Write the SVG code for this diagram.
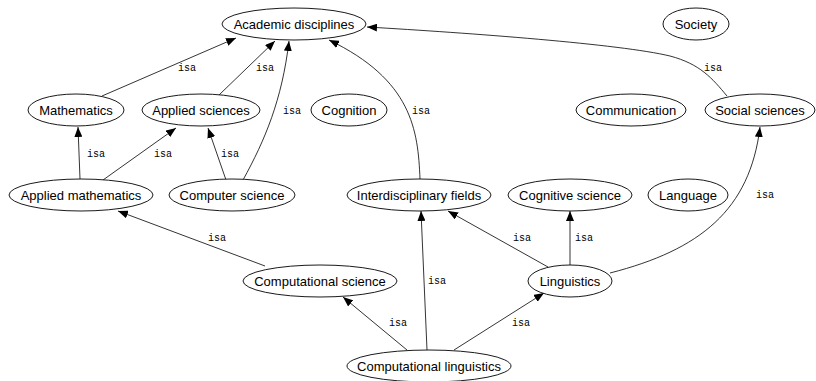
<svg xmlns="http://www.w3.org/2000/svg" width="816" height="381" viewBox="0 0 816 381">
  <style>
    .node ellipse { fill: #ffffff; stroke: #000000; stroke-width: 0.9; }
    .node text { font-family: "Liberation Sans", Arial, sans-serif; font-size: 13px; fill: #000000; text-anchor: middle; }
    .edge path { fill: none; stroke: #000000; stroke-width: 0.8; marker-end: url(#arrow); }
    .edge text { font-family: "Liberation Mono", "Courier New", monospace; font-size: 10px; fill: #000000; text-anchor: middle; }
  </style>
  <defs>
    <marker id="arrow" markerUnits="userSpaceOnUse" markerWidth="10" markerHeight="8" refX="10" refY="4" orient="auto">
      <path d="M0,0 L10,4 L0,8 z" fill="#000000"/>
    </marker>
  </defs>
  <rect width="816" height="381" fill="#ffffff"/>

  <g id="connectors">
    <g class="edge"><path d="M102,96 L236,38"/><text x="187" y="71">isa</text></g>
    <g class="edge"><path d="M219,95 L275,41"/><text x="265" y="71">isa</text></g>
    <g class="edge"><path d="M243,180 C265,140 282,100 289,41"/><text x="292" y="114">isa</text></g>
    <g class="edge"><path d="M420,179 C418,130 412,80 329,40"/><text x="421" y="114">isa</text></g>
    <g class="edge"><path d="M727,96 C712,78 700,64 670,56 C620,44 470,33 367,27"/><text x="713" y="71">isa</text></g>
    <g class="edge"><path d="M80,179 L78,127"/><text x="96" y="157">isa</text></g>
    <g class="edge"><path d="M103,180 L176,128"/><text x="163" y="157">isa</text></g>
    <g class="edge"><path d="M226,180 L208,128"/><text x="230" y="157">isa</text></g>
    <g class="edge"><path d="M265,266 L118,211"/><text x="217" y="241">isa</text></g>
    <g class="edge"><path d="M407,350 L343,297"/><text x="398" y="326">isa</text></g>
    <g class="edge"><path d="M427,350 L421,211"/><text x="437" y="284">isa</text></g>
    <g class="edge"><path d="M454,350 L544,293"/><text x="521" y="326">isa</text></g>
    <g class="edge"><path d="M548,267 L448,211"/><text x="522" y="241">isa</text></g>
    <g class="edge"><path d="M570,265 L570,211"/><text x="584" y="241">isa</text></g>
    <g class="edge"><path d="M610,273 C700,250 750,210 760,127"/><text x="765" y="198">isa</text></g>
  </g>

  <g id="academic-disciplines" class="node"><ellipse cx="294" cy="24" rx="72" ry="16"/><text x="294" y="28.5">Academic disciplines</text></g>
  <g id="society" class="node"><ellipse cx="696" cy="24" rx="33" ry="16"/><text x="696" y="28.5">Society</text></g>

  <g id="mathematics" class="node"><ellipse cx="76" cy="110" rx="48" ry="16"/><text x="76" y="114.5">Mathematics</text></g>
  <g id="applied-sciences" class="node"><ellipse cx="201" cy="110" rx="59" ry="16"/><text x="201" y="114.5">Applied sciences</text></g>
  <g id="cognition" class="node"><ellipse cx="349" cy="110" rx="38" ry="16"/><text x="349" y="114.5">Cognition</text></g>
  <g id="communication" class="node"><ellipse cx="631" cy="110" rx="55" ry="16"/><text x="631" y="114.5">Communication</text></g>
  <g id="social-sciences" class="node"><ellipse cx="760" cy="110" rx="55" ry="16"/><text x="760" y="114.5">Social sciences</text></g>

  <g id="applied-mathematics" class="node"><ellipse cx="81" cy="195" rx="72" ry="16"/><text x="81" y="199.5">Applied mathematics</text></g>
  <g id="computer-science" class="node"><ellipse cx="232" cy="195" rx="63" ry="16"/><text x="232" y="199.5">Computer science</text></g>
  <g id="interdisciplinary-fields" class="node"><ellipse cx="419" cy="195" rx="72" ry="16"/><text x="419" y="199.5">Interdisciplinary fields</text></g>
  <g id="cognitive-science" class="node"><ellipse cx="570" cy="195" rx="62" ry="16"/><text x="570" y="199.5">Cognitive science</text></g>
  <g id="language" class="node"><ellipse cx="688" cy="195" rx="40" ry="16"/><text x="688" y="199.5">Language</text></g>

  <g id="computational-science" class="node"><ellipse cx="320" cy="281" rx="77" ry="16"/><text x="320" y="285.5">Computational science</text></g>
  <g id="linguistics" class="node"><ellipse cx="570" cy="281" rx="42" ry="16"/><text x="570" y="285.5">Linguistics</text></g>

  <g id="computational-linguistics" class="node"><ellipse cx="429" cy="366" rx="82" ry="16"/><text x="429" y="370.5">Computational linguistics</text></g>
</svg>
